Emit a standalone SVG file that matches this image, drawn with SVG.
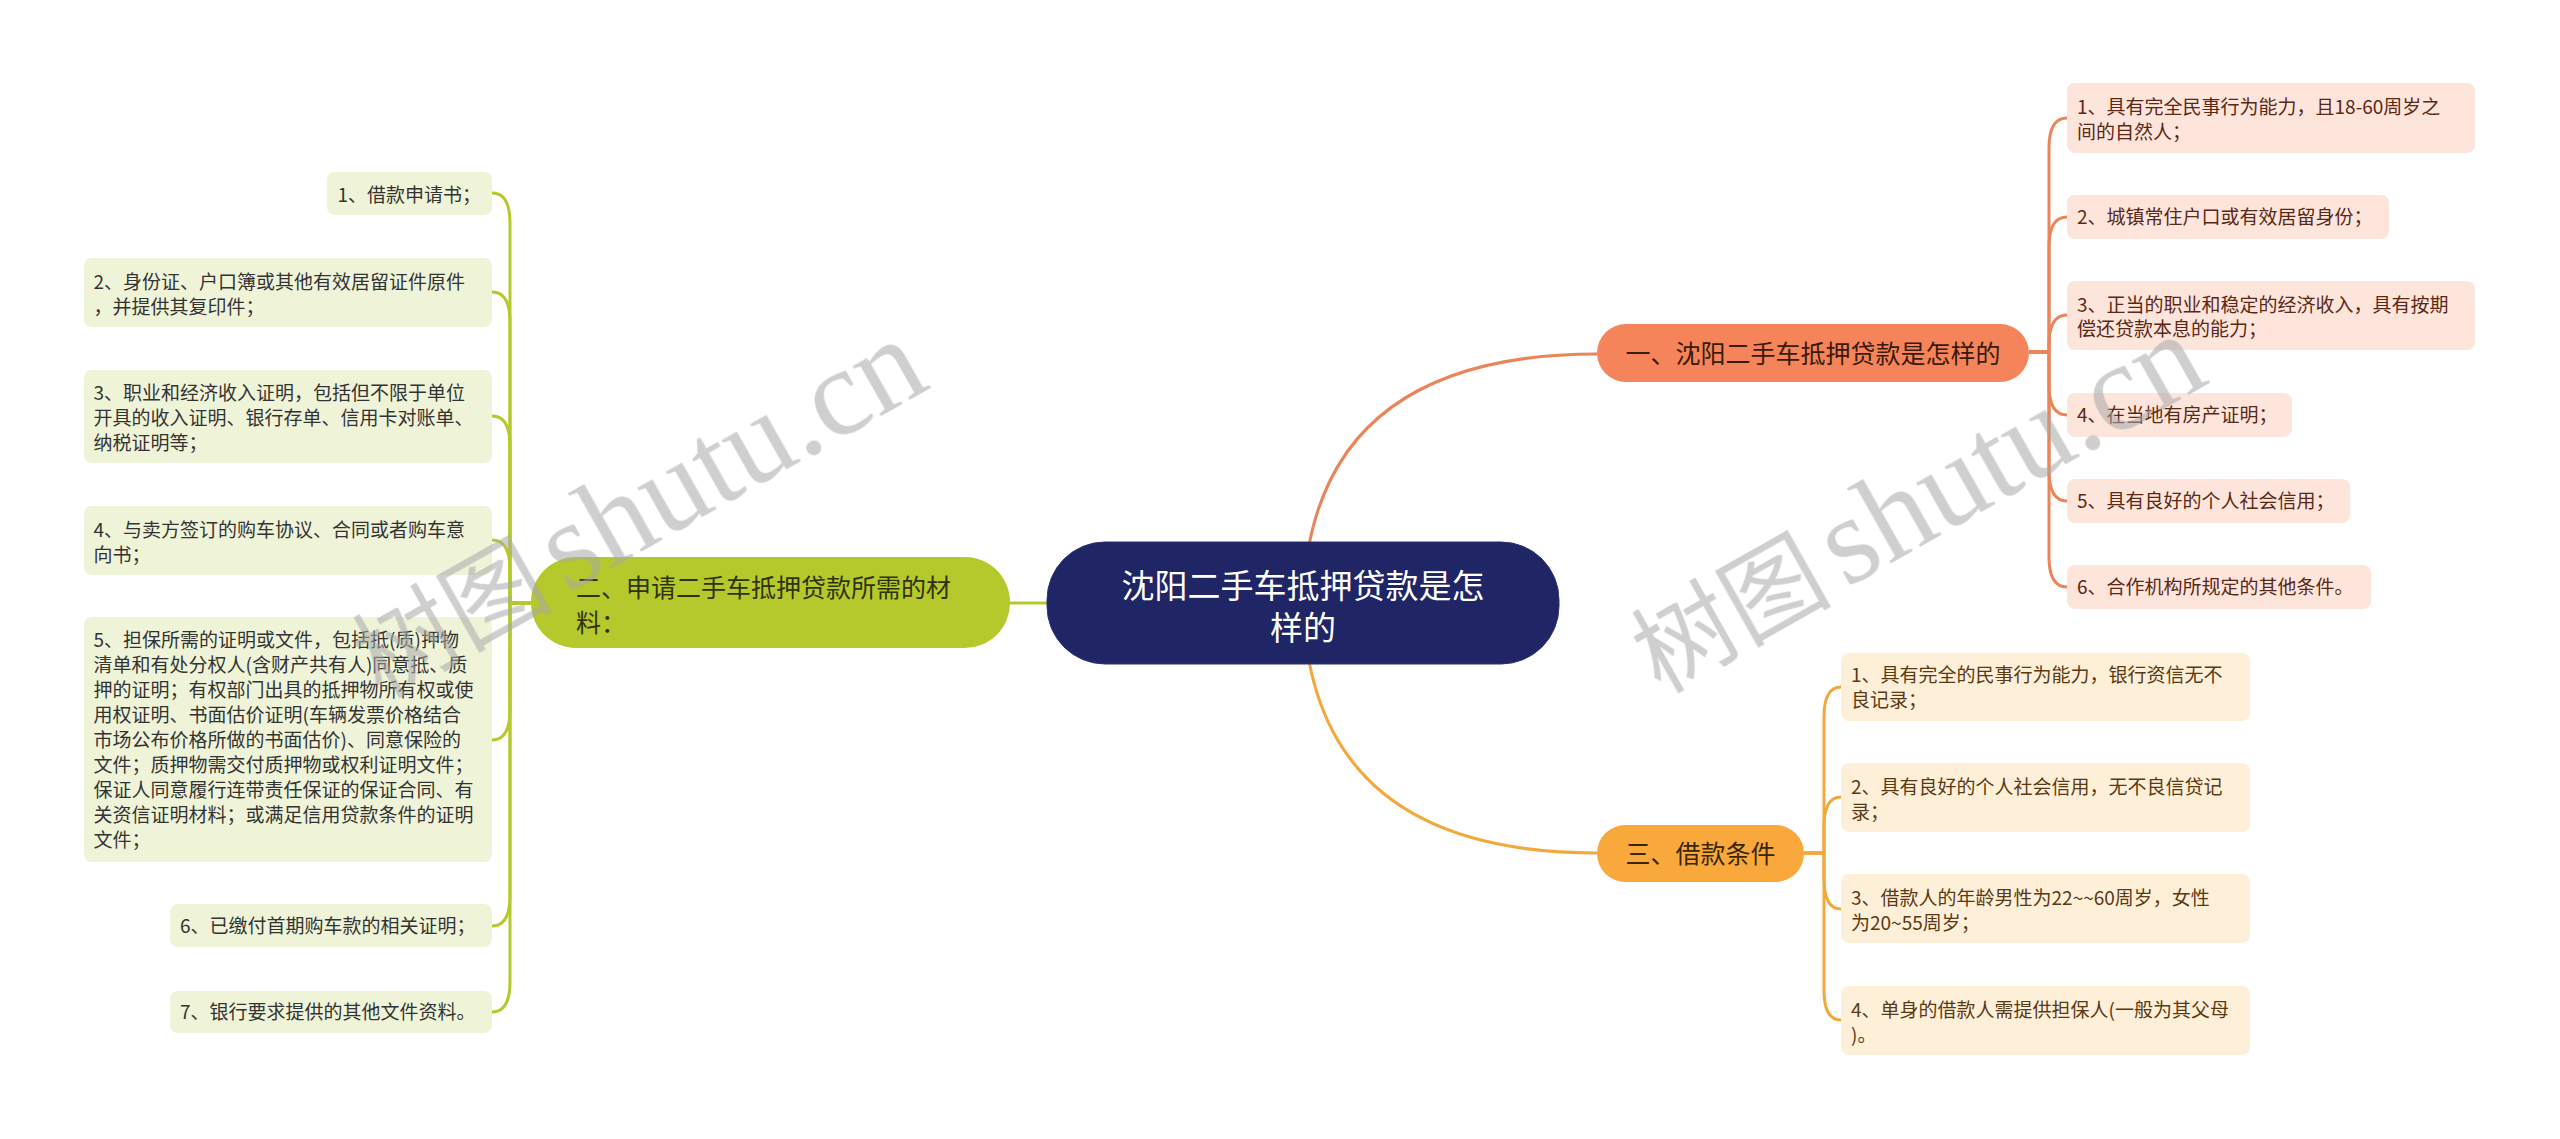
<svg xmlns="http://www.w3.org/2000/svg" width="2560" height="1139" viewBox="0 0 2560 1139">
<style>
text{font-family:"Noto Sans CJK SC","Microsoft YaHei",sans-serif}
.gc rect{fill:#eff3d8}
.gc text{font-size:19px;fill:#333333}
.oc rect{fill:#fde5dc}
.oc text{font-size:19px;fill:#5a2814}
.yc rect{fill:#feefd9}
.yc text{font-size:19px;fill:#5a3a12}
.lg{fill:none;stroke:#b6c92c;stroke-width:3}
.lo{fill:none;stroke:#ea8559;stroke-width:3}
.ly{fill:none;stroke:#f2a83a;stroke-width:3}
.wm{fill:#a8a8a8;opacity:0.55}
</style>
<rect width="2560" height="1139" fill="#ffffff"/>
<g id="connectors">
<path class="lg" d="M1047 603 H1009" stroke-width="3.5"/>
<path class="lo" d="M1303 603 Q1310 354 1597 354"/>
<path class="ly" d="M1303 603 Q1310 853 1597 853"/>
<path class="lg" d="M531 603 H510 V223 Q510 193 492 193"/>
<path class="lg" d="M531 603 H510 V322 Q510 292 492 292"/>
<path class="lg" d="M531 603 H510 V446 Q510 416 492 416"/>
<path class="lg" d="M531 603 H510 V570 Q510 540 492 540"/>
<path class="lg" d="M531 603 H510 V710 Q510 740 492 740"/>
<path class="lg" d="M531 603 H510 V896 Q510 926 492 926"/>
<path class="lg" d="M531 603 H510 V982 Q510 1012 492 1012"/>
<path class="lo" d="M2029 352 H2049 V148 Q2049 118 2067 118"/>
<path class="lo" d="M2029 352 H2049 V247 Q2049 217 2067 217"/>
<path class="lo" d="M2029 352 H2049 V345 Q2049 315 2067 315"/>
<path class="lo" d="M2029 352 H2049 V385 Q2049 415 2067 415"/>
<path class="lo" d="M2029 352 H2049 V471 Q2049 501 2067 501"/>
<path class="lo" d="M2029 352 H2049 V557 Q2049 587 2067 587"/>
<path class="ly" d="M1804 853 H1824 V717 Q1824 687 1841 687"/>
<path class="ly" d="M1804 853 H1824 V827 Q1824 797 1841 797"/>
<path class="ly" d="M1804 853 H1824 V879 Q1824 909 1841 909"/>
<path class="ly" d="M1804 853 H1824 V990 Q1824 1020 1841 1020"/>
</g>
<g id="root">
<rect x="1047" y="542" width="512" height="122" rx="58" fill="#202566" stroke="#2c3172" stroke-width="1"/>
<text x="1303" y="598" font-size="33" fill="#ffffff" text-anchor="middle">沈阳二手车抵押贷款是怎</text>
<text x="1303" y="640" font-size="33" fill="#ffffff" text-anchor="middle">样的</text>
</g>
<g id="b1">
<rect x="1597" y="324" width="432" height="58" rx="29" fill="#f6845a"/>
<text x="1813" y="362.5" font-size="25" fill="#3a1a0c" text-anchor="middle">一、沈阳二手车抵押贷款是怎样的</text>
</g>
<g id="b2">
<rect x="531" y="557" width="479" height="91" rx="45" fill="#b6c92c"/>
<text x="576" y="596.5" font-size="25" fill="#2e330c">二、申请二手车抵押贷款所需的材</text>
<text x="576" y="631.5" font-size="25" fill="#2e330c">料：</text>
</g>
<g id="b3">
<rect x="1597" y="825" width="207" height="57" rx="28.5" fill="#f9a93b"/>
<text x="1700.5" y="862.5" font-size="25" fill="#3a2606" text-anchor="middle">三、借款条件</text>
</g>
<g id="g1" class="gc"><rect x="327" y="172" width="165" height="43" rx="8"/><text x="337.5" y="202">1、借款申请书；</text></g>
<g id="g2" class="gc"><rect x="84" y="258" width="408" height="69" rx="8"/><text x="93.5" y="289">2、身份证、户口簿或其他有效居留证件原件</text><text x="93.5" y="314">，并提供其复印件；</text></g>
<g id="g3" class="gc"><rect x="84" y="370" width="408" height="93" rx="8"/><text x="93.5" y="400">3、职业和经济收入证明，包括但不限于单位</text><text x="93.5" y="425">开具的收入证明、银行存单、信用卡对账单、</text><text x="93.5" y="450">纳税证明等；</text></g>
<g id="g4" class="gc"><rect x="84" y="506" width="408" height="69" rx="8"/><text x="93.5" y="537">4、与卖方签订的购车协议、合同或者购车意</text><text x="93.5" y="562">向书；</text></g>
<g id="g5" class="gc"><rect x="84" y="617" width="408" height="245" rx="8"/>
<text x="93.5" y="647">5、担保所需的证明或文件，包括抵(质)押物</text>
<text x="93.5" y="672">清单和有处分权人(含财产共有人)同意抵、质</text>
<text x="93.5" y="697">押的证明；有权部门出具的抵押物所有权或使</text>
<text x="93.5" y="722">用权证明、书面估价证明(车辆发票价格结合</text>
<text x="93.5" y="747">市场公布价格所做的书面估价)、同意保险的</text>
<text x="93.5" y="772">文件；质押物需交付质押物或权利证明文件；</text>
<text x="93.5" y="797">保证人同意履行连带责任保证的保证合同、有</text>
<text x="93.5" y="822">关资信证明材料；或满足信用贷款条件的证明</text>
<text x="93.5" y="847">文件；</text></g>
<g id="g6" class="gc"><rect x="170" y="904" width="322" height="43" rx="8"/><text x="180" y="933">6、已缴付首期购车款的相关证明；</text></g>
<g id="g7" class="gc"><rect x="170" y="991" width="322" height="42" rx="8"/><text x="180" y="1019">7、银行要求提供的其他文件资料。</text></g>
<g id="o1" class="oc"><rect x="2067" y="83" width="408" height="70" rx="8"/><text x="2077" y="114">1、具有完全民事行为能力，且18-60周岁之</text><text x="2077" y="139">间的自然人；</text></g>
<g id="o2" class="oc"><rect x="2067" y="195" width="322" height="44" rx="8"/><text x="2077" y="224">2、城镇常住户口或有效居留身份；</text></g>
<g id="o3" class="oc"><rect x="2067" y="281" width="408" height="69" rx="8"/><text x="2077" y="312">3、正当的职业和稳定的经济收入，具有按期</text><text x="2077" y="336">偿还贷款本息的能力；</text></g>
<g id="o4" class="oc"><rect x="2067" y="393" width="225" height="44" rx="8"/><text x="2077" y="422">4、在当地有房产证明；</text></g>
<g id="o5" class="oc"><rect x="2067" y="479" width="283" height="44" rx="8"/><text x="2077" y="508">5、具有良好的个人社会信用；</text></g>
<g id="o6" class="oc"><rect x="2067" y="565" width="304" height="44" rx="8"/><text x="2077" y="594">6、合作机构所规定的其他条件。</text></g>
<g id="y1" class="yc"><rect x="1841" y="653" width="409" height="68" rx="8"/><text x="1851" y="682">1、具有完全的民事行为能力，银行资信无不</text><text x="1851" y="707">良记录；</text></g>
<g id="y2" class="yc"><rect x="1841" y="763" width="409" height="69" rx="8"/><text x="1851" y="794">2、具有良好的个人社会信用，无不良信贷记</text><text x="1851" y="819">录；</text></g>
<g id="y3" class="yc"><rect x="1841" y="874" width="409" height="69" rx="8"/><text x="1851" y="905">3、借款人的年龄男性为22~~60周岁，女性</text><text x="1851" y="930">为20~55周岁；</text></g>
<g id="y4" class="yc"><rect x="1841" y="986" width="409" height="69" rx="8"/><text x="1851" y="1017">4、单身的借款人需提供担保人(一般为其父母</text><text x="1851" y="1042">)。</text></g>
<g id="watermark" class="wm">
<text transform="translate(381 699) rotate(-29.5)"><tspan font-size="100">树图</tspan><tspan dx="14" font-size="125" style="font-family:'Liberation Serif',serif">shutu.cn</tspan></text>
<text transform="translate(1660 694) rotate(-29.5)"><tspan font-size="100">树图</tspan><tspan dx="14" font-size="125" style="font-family:'Liberation Serif',serif">shutu.cn</tspan></text>
</g>
</svg>
